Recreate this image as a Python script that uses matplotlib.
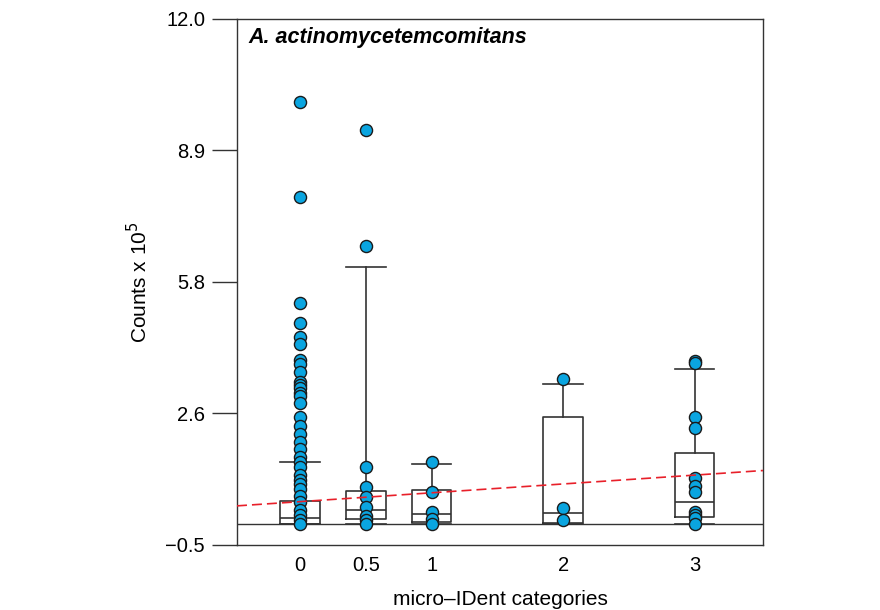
import numpy as np
import matplotlib
matplotlib.use("Agg")
import matplotlib.pyplot as plt

plt.rcParams['font.family'] = ['Liberation Sans', 'DejaVu Sans']

# categories and their positions on the x axis
categories = [0, 0.5, 1, 2, 3]
cat_labels = ['0', '0.5', '1', '2', '3']

# individual counts (x 10^5) per category
pts_0 = [10.03, 7.78, 5.24, 4.78, 4.45, 4.27, 3.90, 3.80, 3.62, 3.38, 3.30,
         3.22, 3.10, 3.04, 2.87, 2.55, 2.33, 2.14, 1.95, 1.77, 1.60, 1.46,
         1.36, 1.16, 1.04, 0.95, 0.82, 0.66, 0.51, 0.33, 0.21, 0.09, 0.0]
pts_05 = [9.36, 6.61, 1.36, 0.87, 0.63, 0.41, 0.19, 0.09, 0.0]
pts_1 = [1.46, 0.75, 0.29, 0.12, 0.0]
pts_2 = [3.45, 0.37, 0.09]
pts_3 = [3.88, 3.82, 2.55, 2.27, 1.10, 0.89, 0.77, 0.29, 0.21, 0.13, 0.0]
points = [pts_0, pts_05, pts_1, pts_2, pts_3]

# box plot summaries
q1 = [0.01, 0.12, 0.04, 0.02, 0.17]
med = [0.15, 0.34, 0.24, 0.27, 0.51]
q3 = [0.55, 0.78, 0.81, 2.55, 1.69]
whi_lo = [0.0, 0.0, 0.0, 0.0, 0.0]
whi_hi = [1.48, 6.10, 1.42, 3.33, 3.68]

# regression line
reg_intercept = 0.53
reg_slope = 0.21

fig = plt.figure(figsize=(8.8, 6.1), dpi=100)
ax = fig.add_axes([0.2693, 0.1066, 0.5977, 0.8623])

edge = '#333333'
stats = []
for i in range(len(categories)):
    stats.append(dict(med=med[i], q1=q1[i], q3=q3[i],
                      whislo=whi_lo[i], whishi=whi_hi[i], fliers=[]))
ax.bxp(stats, positions=categories, widths=0.3, capwidths=0.3,
       showfliers=False, manage_ticks=False,
       boxprops=dict(color=edge, lw=1.2),
       medianprops=dict(color=edge, lw=1.2),
       whiskerprops=dict(color=edge, lw=1.2),
       capprops=dict(color=edge, lw=1.2))

ax.axhline(0, color=edge, lw=1.0, zorder=1)

for x, ys in zip(categories, points):
    ax.scatter(np.full(len(ys), x), ys, s=76, color='#0aa5e0',
               edgecolors='#1a1a1a', linewidths=1.0, zorder=3)

xr = np.array([-0.48, 3.52])
ax.plot(xr, reg_intercept + reg_slope * xr, color='#e8202a',
        lw=1.2, ls=(0, (6, 3)), zorder=4)

ax.set_xlim(-0.48, 3.52)
ax.set_ylim(-0.5, 12.0)
yt = np.linspace(-0.5, 12.0, 5)
ax.set_yticks(yt)
ax.set_yticklabels(['\u22120.5', '2.6', '5.8', '8.9', '12.0'])
ax.set_xticks(categories)
ax.set_xticklabels(cat_labels)
ax.tick_params(axis='y', direction='out', length=18, width=1.0,
               color=edge, labelsize=14.5, pad=5)
ax.tick_params(axis='x', length=0, labelsize=14.5, pad=8)
for s in ax.spines.values():
    s.set_color(edge)
    s.set_linewidth(1.0)

ax.set_xlabel('micro\u2013IDent categories', fontsize=15, labelpad=11)
ax.set_ylabel('Counts x 10$^{5}$', fontsize=15, labelpad=10)
ax.text(0.022, 0.985, 'A. actinomycetemcomitans', transform=ax.transAxes,
        fontsize=15.5, fontweight='bold', fontstyle='italic', va='top', ha='left')

fig.savefig('out.png', dpi=100)
